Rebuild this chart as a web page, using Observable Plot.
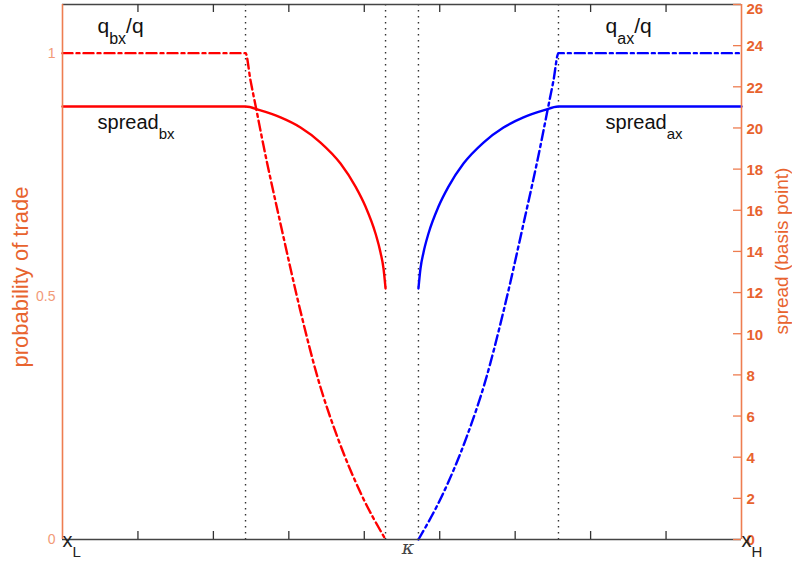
<!DOCTYPE html>
<html><head><meta charset="utf-8">
<script src="https://cdn.jsdelivr.net/npm/d3@7"></script>
<script src="https://cdn.jsdelivr.net/npm/@observablehq/plot@0.6"></script>
<style>html,body{margin:0;padding:0;background:#fff}</style>
</head><body><div id="chart"></div>
<script>
// ---- data ----
const xDomain = [0, 9];
const probMax = 1.1;
const spreadMax = 26;
const xTicks = [1, 2, 3, 4, 5, 6, 7, 8];
const probTicks = [0, 0.5, 1];
const probTickLabels = ["0", "0.5", "1"];
const spreadTicks = [0, 2, 4, 6, 8, 10, 12, 14, 16, 18, 20, 22, 24, 26];
const cutoffs = [2.426, 4.282, 4.718, 6.574];

const bxSpreadX = [0, 2.426, 2.625, 2.890, 3.155, 3.420, 3.685, 3.884, 4.016, 4.149, 4.215, 4.255, 4.282];
const bxSpread  = [21.04, 21.04, 20.85, 20.51, 20.02, 19.29, 18.27, 17.15, 16.18, 14.87, 13.95, 13.17, 12.20];
const axSpreadX = [4.718, 4.745, 4.785, 4.851, 4.984, 5.116, 5.315, 5.580, 5.845, 6.110, 6.375, 6.574, 9];
const axSpread  = [12.20, 13.17, 13.95, 14.87, 16.18, 17.15, 18.27, 19.29, 20.02, 20.51, 20.85, 21.04, 21.04];

const bxQX = [0, 2.426, 2.492, 2.572, 2.651, 2.903, 3.155, 3.393, 3.645, 3.963, 4.282];
const bxQ  = [1, 1, 0.944, 0.882, 0.820, 0.640, 0.469, 0.327, 0.210, 0.092, 0];
const axQX = [4.718, 5.037, 5.355, 5.607, 5.845, 6.097, 6.349, 6.428, 6.508, 6.574, 9];
const axQ  = [0, 0.092, 0.210, 0.327, 0.469, 0.640, 0.820, 0.882, 0.944, 1, 1];

const seriesLabels = [
  {x: 0.464, y: 1.056, text: "q_{bx}/q", size: 21},
  {x: 0.464, y: 0.858, text: "spread_{bx}", size: 20},
  {x: 7.198, y: 1.056, text: "q_{ax}/q", size: 21},
  {x: 7.198, y: 0.858, text: "spread_{ax}", size: 20}
];
const xLabels = [
  {x: 0, text: "x_{L}"},
  {x: 9, text: "x_{H}"}
];
const kappaX = 4.58;

// ---- build ----
const K = probMax / spreadMax;
const zip = (xs, ys) => xs.map((x, i) => ({x, y: ys[i]}));
const orange = "#ee7d50";
const orangeText = "#e8632e";
const font = "Liberation Sans, Arial, Helvetica, sans-serif";
const topTick = spreadTicks[spreadTicks.length - 1];

const plot = Plot.plot({
  width: 792, height: 569,
  marginLeft: 62, marginRight: 51, marginTop: 4, marginBottom: 30,
  x: {domain: xDomain, axis: null},
  y: {domain: [0, probMax], axis: null},
  style: {background: "#fff", fontFamily: font},
  marks: [
    Plot.ruleX(cutoffs, {stroke: "#333", strokeWidth: 1.4, strokeDasharray: "1.4,4.6"}),
    Plot.line(zip(bxSpreadX, bxSpread), {x: "x", y: d => d.y * K, stroke: "#ff0000", strokeWidth: 2.4, curve: "monotone-x"}),
    Plot.line(zip(axSpreadX, axSpread), {x: "x", y: d => d.y * K, stroke: "#0000ff", strokeWidth: 2.4, curve: "monotone-x"}),
    Plot.line(zip(bxQX, bxQ), {x: "x", y: "y", stroke: "#ff0000", strokeWidth: 2.4, strokeDasharray: "10,4,3,4", curve: "monotone-x"}),
    Plot.line(zip(axQX, axQ), {x: "x", y: "y", stroke: "#0000ff", strokeWidth: 2.4, strokeDasharray: "10,4,3,4", curve: "monotone-x"}),
    // frame lines
    Plot.ruleY([0], {stroke: "#444", strokeWidth: 1.3}),
    Plot.ruleY([probMax], {stroke: "#444", strokeWidth: 1.3}),
    Plot.ruleX([xDomain[0]], {stroke: orange, strokeWidth: 1.6}),
    Plot.ruleX([xDomain[1]], {stroke: orange, strokeWidth: 1.6}),
    // inward ticks
    Plot.tickX(xTicks, {x: d => d, insetTop: 527, stroke: "#333", strokeWidth: 1.3}),
    Plot.tickX(xTicks, {x: d => d, insetBottom: 527, stroke: "#333", strokeWidth: 1.3}),
    Plot.tickY(spreadTicks, {y: d => d * K, insetLeft: 671, stroke: orange, strokeWidth: 1.3}),
    // tick labels
    Plot.text(probTicks, {y: d => d, text: (d, i) => probTickLabels[i], frameAnchor: "left", textAnchor: "end", dx: -7, fontSize: 14, fill: "#f29a78"}),
    Plot.text(spreadTicks.filter(d => d !== topTick), {y: d => d * K, text: d => String(d), frameAnchor: "right", textAnchor: "start", dx: 5, dy: 1, fontSize: 15, fontWeight: "bold", fill: orangeText}),
    Plot.text([topTick], {y: d => d * K, text: d => String(d), frameAnchor: "right", textAnchor: "start", dx: 5, dy: 5, fontSize: 15, fontWeight: "bold", fill: orangeText}),
    // axis titles
    Plot.text(["probability of trade"], {text: d => d, frameAnchor: "left", textAnchor: "middle", dx: -42, dy: 5, rotate: -90, fontSize: 22, fill: orangeText}),
    Plot.text(["spread (basis point)"], {text: d => d, frameAnchor: "right", textAnchor: "middle", dx: 40, dy: -21, rotate: -90, fontSize: 19, fill: orangeText}),
    // x labels
    Plot.text(xLabels, {x: "x", text: "text", frameAnchor: "bottom", textAnchor: "start", dy: 7, fontSize: 20, fill: "#222"}),
    Plot.text([kappaX], {x: d => d, text: () => "κ", frameAnchor: "bottom", dy: 14, fontSize: 19, fontStyle: "italic", fontFamily: "DejaVu Serif, serif", fill: "#444"}),
    // series labels
    Plot.text(seriesLabels, {x: "x", y: "y", text: "text", textAnchor: "start", fontSize: d => d.size, fill: "#111"})
  ]
});
document.getElementById("chart").appendChild(plot);

// render "_{...}" as subscripts
d3.select(plot).selectAll("text").each(function() {
  const t = this.textContent;
  if (!t.includes("_{")) return;
  const fs = parseFloat(getComputedStyle(this).fontSize) || 20;
  const parts = t.split(/_\{([^}]*)\}/);
  const sel = d3.select(this);
  sel.text("");
  const sub = Math.round(fs * 0.77), shift = Math.round(fs * 0.5);
  parts.forEach((p, i) => {
    if (!p) return;
    if (i % 2 === 1) {
      sel.append("tspan").attr("font-size", sub).attr("dy", shift).text(p);
    } else {
      const ts = sel.append("tspan").text(p);
      if (i > 0) ts.attr("dy", -shift);
    }
  });
});
</script>
</body></html>
